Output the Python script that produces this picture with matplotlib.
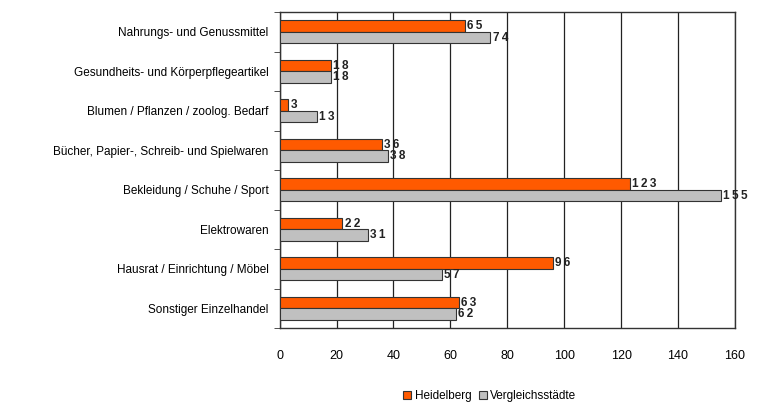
import numpy as np
import matplotlib
matplotlib.use("Agg")
from matplotlib import pyplot as plt

plt.rcParams['font.family'] = ['Liberation Sans', 'DejaVu Sans']

categories = ['Nahrungs- und Genussmittel', 'Gesundheits- und Körperpflegeartikel',
              'Blumen / Pflanzen / zoolog. Bedarf', 'Bücher, Papier-, Schreib- und Spielwaren',
              'Bekleidung / Schuhe / Sport', 'Elektrowaren',
              'Hausrat / Einrichtung / Möbel', 'Sonstiger Einzelhandel']
heidelberg = [65, 18, 3, 36, 123, 22, 96, 63]
vergleich = [74, 18, 13, 38, 155, 31, 57, 62]
xticks = [0, 20, 40, 60, 80, 100, 120, 140, 160]

fig = plt.figure(figsize=(7.6, 4.03), dpi=100)
ax = fig.add_axes([0.368, 0.186, 0.599, 0.784])

y = np.arange(len(categories))
h = 0.29
b1 = ax.barh(y - h / 2, heidelberg, height=h, color='#FF5A00', edgecolor='#333333', linewidth=0.8,
             label='Heidelberg', zorder=3)
b2 = ax.barh(y + h / 2, vergleich, height=h, color='#C0C0C0', edgecolor='#333333', linewidth=0.8,
             label='Vergleichsstädte', zorder=3)

for bars, vals in ((b1, heidelberg), (b2, vergleich)):
    for bar, v in zip(bars, vals):
        ax.text(bar.get_width() + 0.8, bar.get_y() + bar.get_height() / 2, '\u2009'.join(str(v)),
                va='center', ha='left', fontsize=8.5, fontweight='bold', color='#222222')

ax.set_xlim(0, 160)
ax.set_ylim(len(categories) - 0.5, -0.5)
ax.set_xticks(xticks)
ax.set_yticks(y)
ax.set_yticklabels(categories, fontsize=8.5)
ax.tick_params(axis='y', length=0, pad=8)
ax.tick_params(axis='x', length=0, pad=16, labelsize=9)
ax.set_yticks(np.arange(len(categories) + 1) - 0.5, minor=True)
ax.tick_params(axis='y', which='minor', length=4, color='#333333')
ax.grid(axis='x', color='#222222', linewidth=0.9, zorder=0)
for s in ax.spines.values():
    s.set_color('#333333')
    s.set_linewidth(1.0)

ax.legend(loc='center', bbox_to_anchor=((490 - 280) / 455, -0.215), ncol=2, frameon=False,
          fontsize=8.5, handlelength=0.7, handleheight=0.7, handletextpad=0.3, columnspacing=0.6)

plt.savefig('out.png', format='PNG')
plt.close()
